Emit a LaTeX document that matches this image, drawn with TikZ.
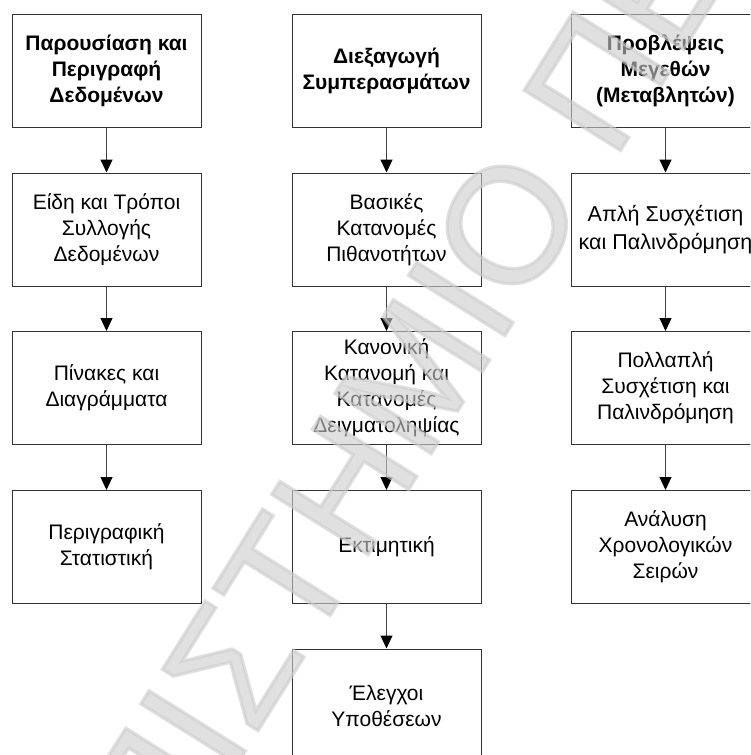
\documentclass[tikz,border=0pt]{standalone}
\usepackage{fontspec}
\setmainfont{Liberation Sans}
\newfontfamily\wmfont[FakeBold=2]{Liberation Sans}
\usetikzlibrary{arrows.meta}
\begin{document}
\begin{tikzpicture}[x=1pt,y=-1pt,
  box/.style={draw=black!80, line width=1pt, minimum width=189pt, minimum height=113pt,
    inner sep=0pt, align=center, font=\fontsize{21}{26}\selectfont},
  head/.style={box, font=\bfseries\fontsize{21}{26}\selectfont},
  arr/.style={draw=black!75, line width=1pt, -{Triangle[length=13pt,width=12pt,color=black,fill=black]}},
  wmark/.style={rotate=58, inner sep=0pt, text=gray!40, text opacity=0.6,
    font=\wmfont\fontsize{165}{165}\selectfont}]
\useasboundingbox (0,0) rectangle (750,755);
\clip (0,0) rectangle (750,755);
\fill[white] (0,0) rectangle (750,755);
% column 1
\node[head] (a1) at (106.5,70.5) {Παρουσίαση και\\Περιγραφή\\Δεδομένων};
\node[box] (a2) at (106.5,229.5) {Είδη και Τρόποι\\Συλλογής\\Δεδομένων};
\node[box] (a3) at (106.5,388) {Πίνακες και\\Διαγράμματα};
\node[box] (a4) at (106.5,547) {Περιγραφική\\Στατιστική};
% column 2
\node[head] (b1) at (386.5,70.5) {Διεξαγωγή\\Συμπερασμάτων};
\node[box] (b2) at (386.5,229.5) {Βασικές\\Κατανομές\\Πιθανοτήτων};
\node[box] (b3) at (386.5,388) {Κανονική\\Κατανομή και\\Κατανομές\\Δειγματοληψίας};
\node[box] (b4) at (386.5,547) {Εκτιμητική};
\node[box] (b5) at (386.5,705.5) {Έλεγχοι\\Υποθέσεων};
% column 3
\node[head] (c1) at (665.5,70.5) {Προβλέψεις\\Μεγεθών\\(Μεταβλητών)};
\node[box, font=\fontsize{21.5}{28}\selectfont] (c2) at (665.5,229.5) {Απλή Συσχέτιση\\και Παλινδρόμηση};
\node[box] (c3) at (665.5,388) {Πολλαπλή\\Συσχέτιση και\\Παλινδρόμηση};
\node[box] (c4) at (665.5,547) {Ανάλυση\\Χρονολογικών\\Σειρών};
% connectors
\draw[arr] (a1) -- (a2);
\draw[arr] (a2) -- (a3);
\draw[arr] (a3) -- (a4);
\draw[arr] (b1) -- (b2);
\draw[arr] (b2) -- (b3);
\draw[arr] (b3) -- (b4);
\draw[arr] (b4) -- (b5);
\draw[arr] (c1) -- (c2);
\draw[arr] (c2) -- (c3);
\draw[arr] (c3) -- (c4);
% watermark
\node[wmark] (wm) at (507,225) {\llap{ΠΑΝΕΠΙΣΤΗΜΙ}Ο\rlap{~ΠΕΙΡΑΙΩΣ}};
\end{tikzpicture}
\end{document}
